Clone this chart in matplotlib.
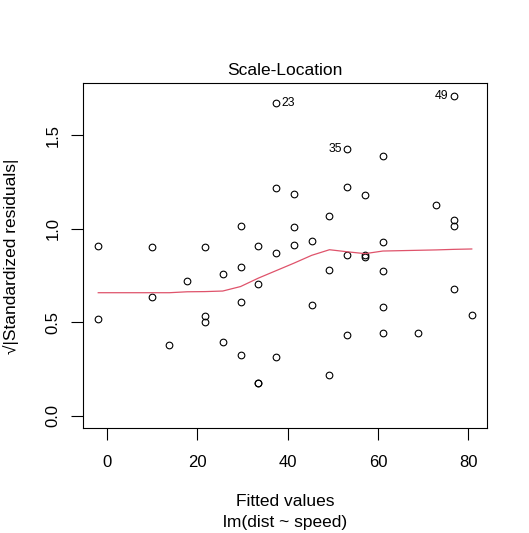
import matplotlib
matplotlib.use("Agg")
import matplotlib.pyplot as plt

plt.rcParams['font.family'] = ['Liberation Sans', 'DejaVu Sans']

# Fitted values of lm(dist ~ speed)
fitted = [-1.849, -1.849, 9.948, 9.948, 13.880, 17.813, 21.745, 21.745, 21.745, 25.677,
          25.677, 29.609, 29.609, 29.609, 29.609, 33.542, 33.542, 33.542, 33.542, 37.474,
          37.474, 37.474, 37.474, 41.406, 41.406, 41.406, 45.339, 45.339, 49.271, 49.271,
          49.271, 53.203, 53.203, 53.203, 53.203, 57.135, 57.135, 57.135, 61.068, 61.068,
          61.068, 61.068, 61.068, 68.932, 72.865, 76.797, 76.797, 76.797, 76.797, 80.729]
# sqrt(|standardized residuals|)
sqrt_std_resid = [0.516, 0.905, 0.634, 0.902, 0.377, 0.722, 0.499, 0.532, 0.902, 0.758,
                  0.392, 1.015, 0.796, 0.608, 0.326, 0.705, 0.174, 0.174, 0.906, 0.868,
                  0.311, 1.217, 1.672, 1.186, 1.006, 0.910, 0.936, 0.592, 1.066, 0.781,
                  0.219, 0.859, 0.429, 1.225, 1.424, 1.181, 0.857, 0.847, 1.387, 0.930,
                  0.775, 0.579, 0.441, 0.443, 1.125, 0.678, 1.014, 1.046, 1.709, 0.539]

# lowess smooth read at unique fitted values
smooth_x = [-1.849, 9.948, 13.880, 17.813, 21.745, 25.677, 29.609, 33.542, 37.474, 41.406,
            45.339, 49.271, 53.203, 57.135, 61.068, 68.932, 72.865, 76.797, 80.729]
smooth_y = [0.657, 0.657, 0.657, 0.662, 0.663, 0.666, 0.690, 0.735, 0.775, 0.815,
            0.857, 0.887, 0.876, 0.866, 0.880, 0.884, 0.886, 0.889, 0.891]

label_ids = ['23', '49', '35']
label_idx = [22, 48, 34]
label_side = ['right', 'left', 'left']

xticks = [0, 20, 40, 60, 80]
yticks = [0.0, 0.5, 1.0, 1.5]
ytick_labels = ['0.0', '0.5', '1.0', '1.5']

W, H = 529, 533
fig = plt.figure(figsize=(W / 100, H / 100), dpi=100)
ax = fig.add_axes([83.3 / W, 1 - 428.3 / H, (486.7 - 83.3) / W, (428.3 - 83.3) / H])

ax.plot(fitted, sqrt_std_resid, linestyle='none', marker='o', markersize=4.8,
        markerfacecolor='none', markeredgecolor='black', markeredgewidth=0.8)
ax.plot(smooth_x, smooth_y, color='#DF536B', linewidth=0.9)

for lab, i, side in zip(label_ids, label_idx, label_side):
    off = 3.8 if side == 'right' else -3.8
    ax.annotate(lab, (fitted[i], sqrt_std_resid[i]), xytext=(off, 0),
                textcoords='offset points', ha='left' if side == 'right' else 'right',
                va='center', fontsize=8.8)

xmin, xmax = min(fitted), max(fitted)
dx = (xmax - xmin) * 0.04
ax.set_xlim(xmin - dx, xmax + dx)
ymax = max(sqrt_std_resid)
dy = ymax * 0.04
ax.set_ylim(-dy, ymax + dy)

ax.set_xticks(xticks)
ax.set_xticklabels([str(t) for t in xticks])
ax.set_yticks(yticks)
ax.set_yticklabels(ytick_labels, rotation=90, va='center')
ax.tick_params(axis='both', direction='out', length=8.4, width=0.8, labelsize=12)
ax.tick_params(axis='x', pad=10.5)
ax.tick_params(axis='y', pad=7.8)
for s in ax.spines.values():
    s.set_linewidth(0.8)

fig.text(285 / W, 1 - 75 / H, 'Scale-Location', ha='center', va='baseline', fontsize=12.5)
fig.text(285 / W, 1 - 506.5 / H, 'Fitted values', ha='center', va='baseline', fontsize=12.5)
fig.text(285 / W, 1 - 526.5 / H, 'lm(dist ~ speed)', ha='center', va='baseline', fontsize=12.5)
fig.text(11 / W, 1 - 256 / H, '\u221a|Standardized residuals|', rotation=90,
         ha='center', va='center', fontsize=12.5)

fig.savefig('out.png', dpi=100)
